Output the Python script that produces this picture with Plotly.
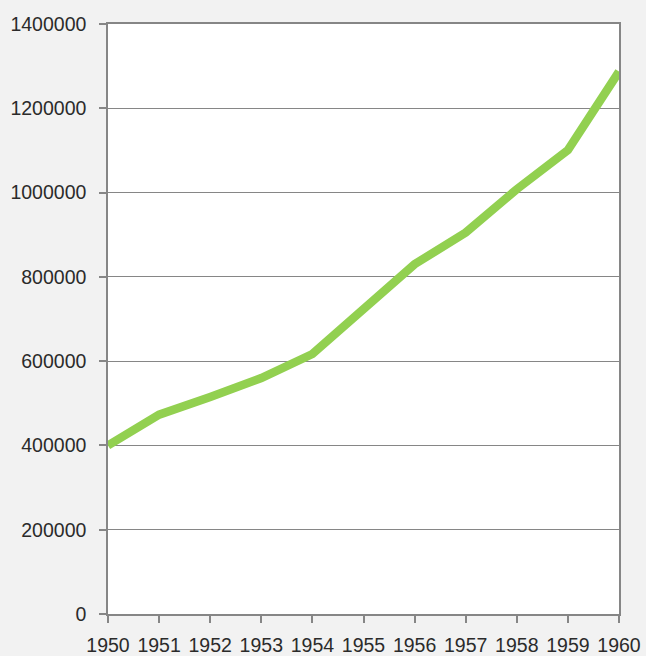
import plotly.graph_objects as go

years = [1950, 1951, 1952, 1953, 1954, 1955, 1956, 1957, 1958, 1959, 1960]
values = [400000, 473000, 515000, 560000, 617000, 722000, 830000, 905000, 1008000, 1101000, 1287000]
y_ticks = [0, 200000, 400000, 600000, 800000, 1000000, 1200000, 1400000]

fig = go.Figure()
fig.add_trace(go.Scatter(
    x=years, y=values, mode="lines",
    line=dict(color="#92D050", width=8.5),
    cliponaxis=True,
))

axis_col = "#868686"
font_col = "#2b2b2b"
fnt = "Liberation Sans, Arial, sans-serif"
fsize = 19.5

fig.update_layout(
    width=646, height=656,
    paper_bgcolor="#f2f2f2",
    plot_bgcolor="#ffffff",
    margin=dict(l=108, r=27, t=24, b=42),
    showlegend=False,
    font=dict(family=fnt, size=fsize, color=font_col),
    xaxis=dict(
        range=[1950, 1960],
        tickmode="array", tickvals=years, ticktext=[str(y) for y in years],
        showgrid=False, zeroline=False,
        showline=True, linecolor=axis_col, linewidth=1.5, mirror=True,
        ticks="outside", ticklen=7, tickcolor=axis_col, tickwidth=1.5,
        tickfont=dict(family=fnt, size=fsize, color=font_col),
        tickangle=0, automargin=False,
        ticklabelstandoff=6,
    ),
    yaxis=dict(
        range=[0, 1400000],
        tickmode="array", tickvals=y_ticks, ticktext=[str(v) for v in y_ticks],
        showgrid=True, gridcolor=axis_col, gridwidth=1.2,
        zeroline=False,
        showline=True, linecolor=axis_col, linewidth=1.5, mirror=True,
        ticks="outside", ticklen=7, tickcolor=axis_col, tickwidth=1.5,
        tickfont=dict(family=fnt, size=fsize, color=font_col),
        automargin=False,
        ticklabelstandoff=9,
    ),
)

fig.write_html(
    "out.html",
    config={"displayModeBar": False},
    post_script="document.body.style.margin='0';document.body.style.padding='0';document.body.style.overflow='hidden';",
)
